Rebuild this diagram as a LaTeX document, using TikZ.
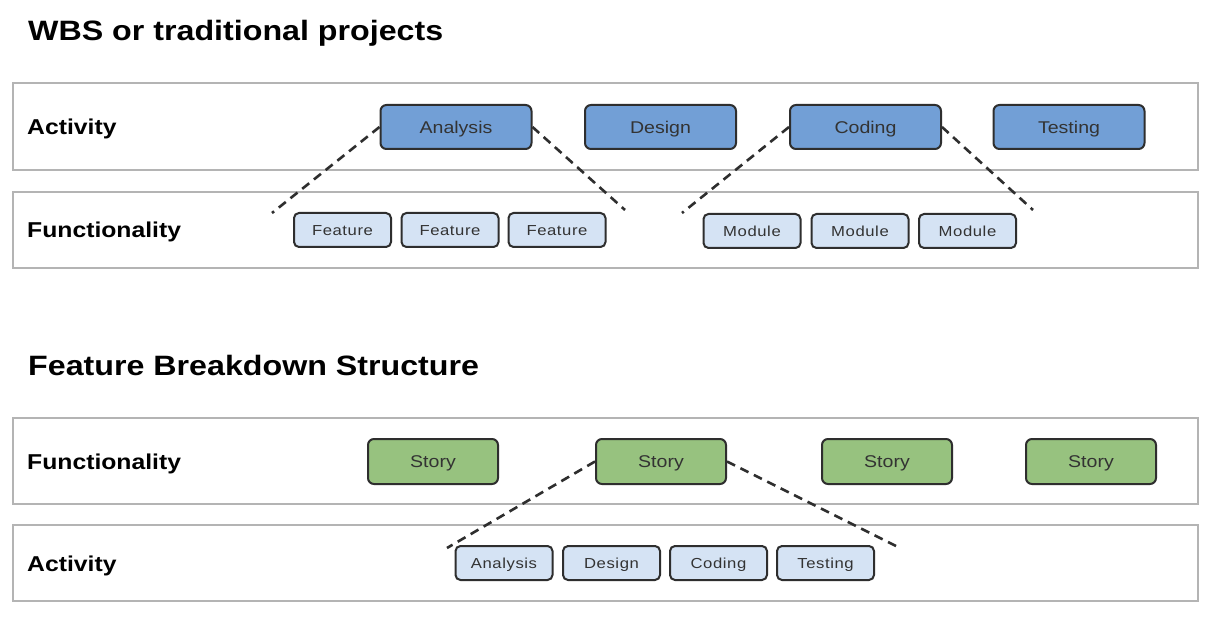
\documentclass[tikz,border=0pt]{standalone}
\usepackage{fontspec}
\setmainfont{Liberation Sans}[FakeStretch=1.15]
\newfontfamily\boxfont{Liberation Sans}[FakeStretch=1.15]
\newfontfamily\smallfont{Liberation Sans}[FakeStretch=1.15,LetterSpace=4]
\definecolor{bandgray}{HTML}{B4B4B4}
\definecolor{edgedark}{HTML}{2E2E2E}
\definecolor{darkblue}{HTML}{729FD6}
\definecolor{lightblue}{HTML}{D5E3F4}
\definecolor{storygreen}{HTML}{97C27F}
\definecolor{txtdark}{HTML}{333333}
\tikzset{
  band/.style={draw=bandgray, line width=2pt, fill=white, minimum width=1185pt, inner sep=0pt},
  rowlabel/.style={anchor=base west, inner sep=0pt, font=\fontsize{21.5}{24}\selectfont\bfseries},
  title/.style={anchor=base west, inner sep=0pt, font=\fontsize{28}{32}\selectfont\bfseries},
  bigbox/.style={draw=edgedark, line width=2pt, rounded corners=6pt, minimum height=44pt, inner sep=0pt,
    text height=12.3pt, text depth=0pt,
    text=txtdark, font=\boxfont\fontsize{17}{20}\selectfont},
  actbox/.style={bigbox, fill=darkblue, minimum width=151pt},
  storybox/.style={bigbox, fill=storygreen, minimum width=130pt, minimum height=45pt},
  smallbox/.style={draw=edgedark, line width=2pt, rounded corners=5pt, fill=lightblue, minimum width=97pt,
    minimum height=34pt, inner sep=0pt, text height=10.4pt, text depth=0pt,
    text=txtdark, font=\smallfont\fontsize{14.5}{17}\selectfont},
  linkline/.style={draw=edgedark, line width=2.6pt, dash pattern=on 9pt off 6pt}
}
\begin{document}
\begin{tikzpicture}[x=1pt,y=-1pt]
\useasboundingbox (0,0) rectangle (1216,620);
% titles
\node[title] (t1) at (28,41) {WBS or traditional projects};
\node[title] (t2) at (28,376) {Feature Breakdown Structure};
% bands
\node[band, minimum height=87pt] (b1) at (605.5,126.5) {};
\node[band, minimum height=76pt] (b2) at (605.5,230) {};
\node[band, minimum height=86pt] (b3) at (605.5,461) {};
\node[band, minimum height=76pt] (b4) at (605.5,563) {};
% row labels
\node[rowlabel] (l1) at (27,135) {Activity};
\node[rowlabel] (l2) at (27,238) {Functionality};
\node[rowlabel] (l3) at (27,469) {Functionality};
\node[rowlabel] (l4) at (27,571) {Activity};
% free ends of dashed lines
\coordinate (a1) at (272,213);
\coordinate (a2) at (625,210);
\coordinate (c1) at (682,213);
\coordinate (c2) at (1033,210);
\coordinate (s1) at (447,548);
\coordinate (s2) at (898,547);
% top activity boxes
\node[actbox] (analysis) at (456,127) {Analysis};
\node[actbox] (design) at (660.5,127) {Design};
\node[actbox] (coding) at (865.5,127) {Coding};
\node[actbox] (testing) at (1069,127) {Testing};
% dashed lines (top)
\draw[linkline] (analysis.west) -- (a1);
\draw[linkline] (analysis.east) -- (a2);
\draw[linkline] (coding.west) -- (c1);
\draw[linkline] (coding.east) -- (c2);
% features and modules
\node[smallbox] (f1) at (342.5,230) {Feature};
\node[smallbox] (f2) at (450,230) {Feature};
\node[smallbox] (f3) at (557,230) {Feature};
\node[smallbox] (m1) at (752,231) {Module};
\node[smallbox] (m2) at (860,231) {Module};
\node[smallbox] (m3) at (967.5,231) {Module};
% stories
\node[storybox] (st1) at (433,461.5) {Story};
\node[storybox] (st2) at (661,461.5) {Story};
\node[storybox] (st3) at (887,461.5) {Story};
\node[storybox] (st4) at (1091,461.5) {Story};
\draw[linkline] (st2.west) -- (s1);
\draw[linkline] (st2.east) -- (s2);
% bottom activities
\node[smallbox] (ba) at (504,563) {Analysis};
\node[smallbox] (bd) at (611.5,563) {Design};
\node[smallbox] (bc) at (718.5,563) {Coding};
\node[smallbox] (bt) at (825.5,563) {Testing};
\end{tikzpicture}
\end{document}
